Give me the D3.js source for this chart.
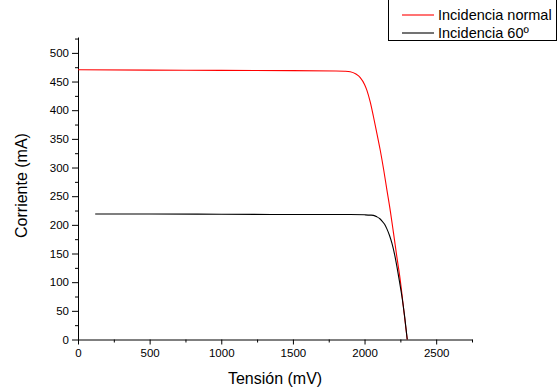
<!DOCTYPE html>
<html><head><meta charset="utf-8">
<script src="https://cdn.jsdelivr.net/npm/d3@7"></script>
<style>body{margin:0;background:#fff}svg{display:block;font-family:"Liberation Sans",Arial,sans-serif}</style>
</head><body><svg id="c" width="557" height="392"></svg>
<script>
const seriesNames = ["Incidencia normal", "Incidencia 60º"];
const seriesColors = ["#ff0000", "#000000"];
const normalV = [0, 500, 1000, 1500, 1800, 1860, 1900, 1940, 1970, 2000, 2016, 2040, 2062, 2085, 2109, 2133, 2156, 2180, 2202, 2225, 2249, 2272, 2298];
const normalI = [470.5, 470, 469.5, 469, 468.5, 468, 467, 463, 457, 445, 435, 414, 389, 361, 331, 297, 261, 224, 186, 145, 104, 55, 0];
const obliqueV = [120, 500, 1000, 1500, 1900, 2000, 2040, 2062, 2086, 2105, 2121, 2140, 2156, 2175, 2191, 2210, 2226, 2244, 2261, 2280, 2298];
const obliqueI = [219, 219, 218.5, 218, 218, 217.5, 217, 216.5, 214, 211, 207, 201, 193, 181, 168, 148, 127, 101, 75, 40, 0];
const xTicks = [0, 500, 1000, 1500, 2000, 2500];
const yTicks = [0, 50, 100, 150, 200, 250, 300, 350, 400, 450, 500];
const xLabel = "Tensión (mV)";
const yLabel = "Corriente (mA)";

const svg = d3.select("#c");
const L = 78, R = 472, T = 37, B = 339.5;
const x = d3.scaleLinear().domain([0, 2750]).range([L, R]);
const y = d3.scaleLinear().domain([0, 527.7]).range([B, T]);
const fmt = d3.format("d");

// minor ticks
const xMinor = d3.range(250, 2751, 500);
const yMinor = d3.range(25, 526, 50);
svg.append("g").attr("transform", `translate(0,${B})`)
  .call(d3.axisBottom(x).tickValues(xMinor).tickSize(3).tickFormat(""))
  .call(g => g.select(".domain").remove());
svg.append("g").attr("transform", `translate(${L},0)`)
  .call(d3.axisLeft(y).tickValues(yMinor).tickSize(3).tickFormat(""))
  .call(g => g.select(".domain").remove());

const gx = svg.append("g").attr("transform", `translate(0,${B})`)
  .call(d3.axisBottom(x).tickValues(xTicks).tickFormat(fmt).tickSize(5).tickSizeOuter(0).tickPadding(4));
gx.selectAll("text").attr("font-size", 11.5).attr("font-family", "Liberation Sans, Arial, sans-serif");
const gy = svg.append("g").attr("transform", `translate(${L},0)`)
  .call(d3.axisLeft(y).tickValues(yTicks).tickFormat(fmt).tickSize(6).tickSizeOuter(0).tickPadding(3));
gy.selectAll("text").attr("font-size", 11.5).attr("font-family", "Liberation Sans, Arial, sans-serif");
svg.selectAll(".domain, .tick line").attr("stroke", "#000").attr("stroke-width", 1);

const line = d3.line().x(d => x(d[0])).y(d => y(d[1])).curve(d3.curveMonotoneX);
const sets = [d3.zip(normalV, normalI), d3.zip(obliqueV, obliqueI)];
sets.forEach((s, i) => {
  svg.append("path").datum(s).attr("d", line).attr("fill", "none")
    .attr("stroke", seriesColors[i]).attr("stroke-width", 1.1);
});

svg.append("text").attr("x", 275).attr("y", 384).attr("text-anchor", "middle")
  .attr("font-size", 16).text(xLabel);
svg.append("text").attr("transform", `translate(27,185.5) rotate(-90)`)
  .attr("text-anchor", "middle").attr("font-size", 16).text(yLabel);

// legend
const lg = svg.append("g");
lg.append("rect").attr("x", 388.5).attr("y", -1).attr("width", 168).attr("height", 41.5)
  .attr("fill", "#fff").attr("stroke", "#000").attr("stroke-width", 1);
seriesNames.forEach((n, i) => {
  const yy = 15 + i * 18;
  lg.append("line").attr("x1", 402).attr("x2", 434).attr("y1", yy).attr("y2", yy)
    .attr("stroke", seriesColors[i]).attr("stroke-width", 1.1);
  lg.append("text").attr("x", 438).attr("y", yy + 5).attr("font-size", 14.5).text(n);
});
</script></body></html>
